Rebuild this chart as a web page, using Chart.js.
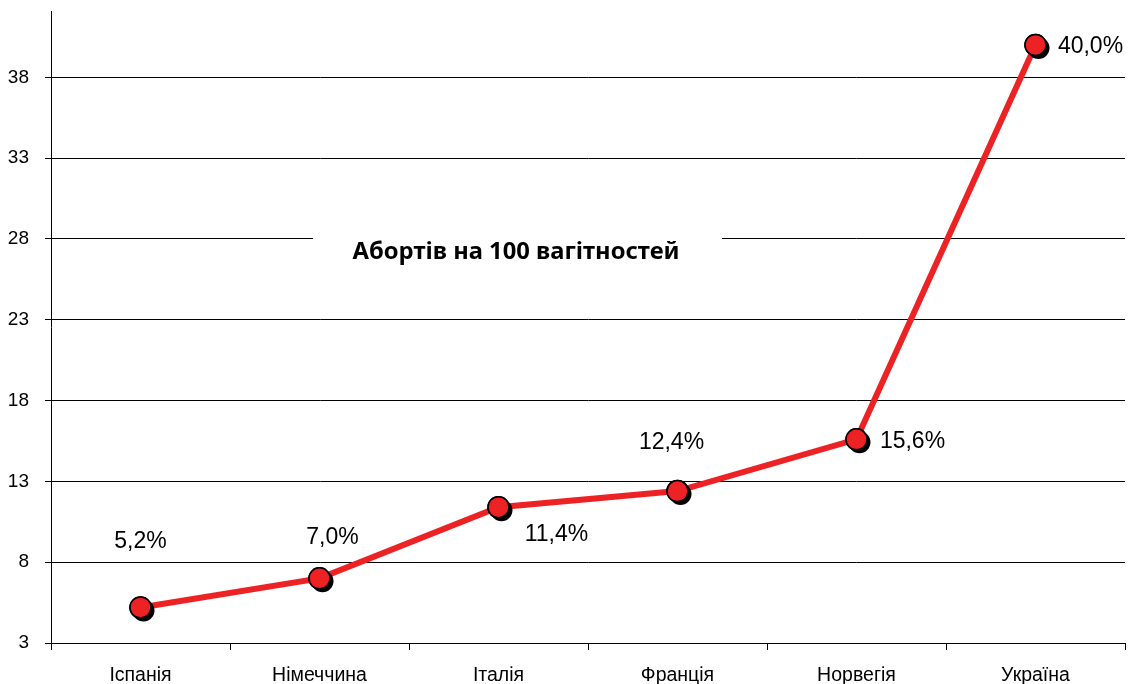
<!DOCTYPE html>
<html>
<head>
    <title>Аборти на 100 вагітностей</title>
    <script src="https://cdn.jsdelivr.net/npm/chart.js@4.4.1/dist/chart.umd.min.js"></script>
    <style>
        html, body { margin: 0; padding: 0; background: #fff; overflow: hidden; }
        .chart-container { position: relative; width: 1130px; height: 684px; }
    </style>
</head>
<body>
    <div class="chart-container">
        <canvas id="abortChart"></canvas>
    </div>
    <script>
        // Data
        const countries = ['Іспанія', 'Німеччина', 'Італія', 'Франція', 'Норвегія', 'Україна'];
        const abortRates = [5.2, 7.0, 11.4, 12.4, 15.6, 40.0];
        const yTicks = [3, 8, 13, 18, 23, 28, 33, 38];
        const chartTitle = 'Абортів на 100 вагітностей';

        // label offsets from the point (px), matching the original placement
        const labelOffsets = [[0, -66], [13, -41], [58, 27], [-6, -48], [56, 2], [55, 2]];

        const RED = '#ed2224';
        const AXIS_FONT = '"Liberation Sans", Arial, sans-serif';

        // black shadow behind each marker, then redraw the marker on top
        const pointShadow = {
            id: 'pointShadow',
            afterDatasetsDraw(chart) {
                const ctx = chart.ctx;
                const meta = chart.getDatasetMeta(0);
                meta.data.forEach(pt => {
                    ctx.save();
                    ctx.fillStyle = '#000';
                    ctx.beginPath();
                    ctx.arc(pt.x + 3, pt.y + 3, 11, 0, Math.PI * 2);
                    ctx.fill();
                    ctx.restore();
                    pt.draw(ctx, chart.chartArea);
                });
            }
        };

        // percentage labels next to the points
        const valueLabels = {
            id: 'valueLabels',
            afterDatasetsDraw(chart) {
                const ctx = chart.ctx;
                const meta = chart.getDatasetMeta(0);
                ctx.save();
                ctx.font = '23px ' + AXIS_FONT;
                ctx.fillStyle = '#000';
                ctx.textAlign = 'center';
                ctx.textBaseline = 'middle';
                meta.data.forEach((pt, i) => {
                    const txt = abortRates[i].toFixed(1).replace('.', ',') + '%';
                    ctx.fillText(txt, pt.x + labelOffsets[i][0], pt.y + labelOffsets[i][1]);
                });
                ctx.restore();
            }
        };

        // title sitting inside the plot on a white patch
        const innerTitle = {
            id: 'innerTitle',
            beforeDatasetsDraw(chart) {
                const ctx = chart.ctx;
                const area = chart.chartArea;
                const cx = area.left + area.width * 0.433;
                const cy = chart.scales.y.getPixelForValue(27.2);
                ctx.save();
                ctx.fillStyle = '#fff';
                ctx.fillRect(cx - 203, cy - 22, 409, 40);
                ctx.font = 'bold 24px "Noto Sans", sans-serif';
                ctx.fillStyle = '#000';
                ctx.textAlign = 'center';
                ctx.textBaseline = 'middle';
                // fit to the condensed width of the original
                const w = ctx.measureText(chartTitle).width;
                ctx.translate(cx, cy);
                ctx.scale(327 / w, 1);
                ctx.fillText(chartTitle, 0, 0);
                ctx.restore();
            }
        };

        new Chart(document.getElementById('abortChart'), {
            type: 'line',
            data: {
                labels: countries,
                datasets: [{
                    data: abortRates,
                    borderColor: RED,
                    borderWidth: 6,
                    backgroundColor: RED,
                    pointRadius: 10.5,
                    pointBackgroundColor: RED,
                    pointBorderColor: '#000',
                    pointBorderWidth: 1.5,
                    tension: 0,
                    clip: false
                }]
            },
            options: {
                responsive: true,
                maintainAspectRatio: false,
                animation: false,
                layout: { autoPadding: false, padding: { top: 11, right: 5, left: 0, bottom: 0 } },
                plugins: {
                    legend: { display: false },
                    tooltip: { enabled: false }
                },
                scales: {
                    x: {
                        offset: true,
                        grid: {
                            display: true,
                            offset: true,
                            drawOnChartArea: false,
                            color: '#000',
                            tickLength: 7
                        },
                        border: { color: '#000', width: 1 },
                        ticks: {
                            color: '#000',
                            padding: 14,
                            maxRotation: 0,
                            font: { family: AXIS_FONT, size: 19.5 }
                        },
                        afterFit: s => {
                            s.height = 41;
                            s.paddingLeft = 0;
                            s.paddingRight = 0;
                        }
                    },
                    y: {
                        min: 3,
                        max: 42.1,
                        grid: { color: '#000', lineWidth: 1, tickLength: 6 },
                        border: { color: '#000', width: 1 },
                        ticks: {
                            color: '#000',
                            padding: 16,
                            font: { family: AXIS_FONT, size: 19 }
                        },
                        afterBuildTicks: s => { s.ticks = yTicks.map(v => ({ value: v })); },
                        afterFit: s => {
                            s.width = 51;
                            s.paddingTop = 0;
                            s.paddingBottom = 0;
                        }
                    }
                }
            },
            plugins: [innerTitle, pointShadow, valueLabels]
        });
    </script>
</body>
</html>
